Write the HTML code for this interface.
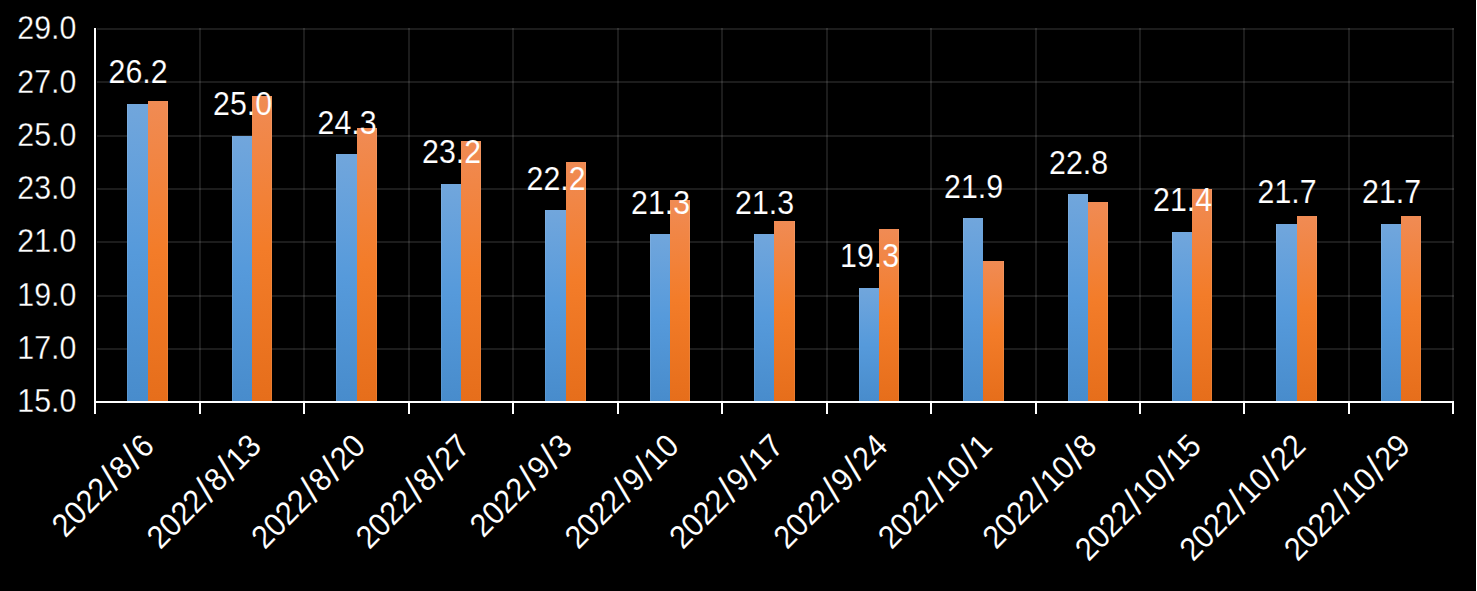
<!DOCTYPE html>
<html lang="zh"><head><meta charset="utf-8"><title>chart</title>
<style>
html,body{margin:0;padding:0;background:#000;}
body{width:1477px;height:591px;overflow:hidden;position:relative;}
svg{display:block;position:absolute;left:0;top:0;}
text{font-family:"Liberation Sans","Noto Sans CJK SC",sans-serif;fill:#fff;}
.g rect{fill:rgba(255,255,255,0.11);}
.ax rect{fill:#fff;}
.hl rect{fill:rgba(255,255,255,0.09);}
</style></head><body>
<svg width="1477" height="591" viewBox="0 0 1477 591">
<defs>
<linearGradient id="gb" x1="0" y1="0" x2="0" y2="1"><stop offset="0" stop-color="#71a6dc"/><stop offset="0.5" stop-color="#569adb"/><stop offset="1" stop-color="#488ccc"/></linearGradient>
<linearGradient id="go" x1="0" y1="0" x2="0" y2="1"><stop offset="0" stop-color="#f08b54"/><stop offset="0.5" stop-color="#f37c29"/><stop offset="1" stop-color="#e66e1b"/></linearGradient>
<pattern id="bg" patternUnits="userSpaceOnUse" x="0" y="0" width="1477" height="591">
<rect x="0" y="0" width="1477" height="591" fill="#000"/>
<g class="g" shape-rendering="crispEdges">
<rect x="97" y="28" width="1357" height="2"/>
<rect x="97" y="81" width="1357" height="2"/>
<rect x="97" y="135" width="1357" height="2"/>
<rect x="97" y="188" width="1357" height="2"/>
<rect x="97" y="241" width="1357" height="2"/>
<rect x="97" y="295" width="1357" height="2"/>
<rect x="97" y="348" width="1357" height="2"/>
<rect x="199" y="28" width="2" height="373"/>
<rect x="303" y="28" width="2" height="373"/>
<rect x="408" y="28" width="2" height="373"/>
<rect x="512" y="28" width="2" height="373"/>
<rect x="617" y="28" width="2" height="373"/>
<rect x="721" y="28" width="2" height="373"/>
<rect x="826" y="28" width="2" height="373"/>
<rect x="930" y="28" width="2" height="373"/>
<rect x="1035" y="28" width="2" height="373"/>
<rect x="1139" y="28" width="2" height="373"/>
<rect x="1243" y="28" width="2" height="373"/>
<rect x="1348" y="28" width="2" height="373"/>
<rect x="1452" y="28" width="2" height="373"/>
</g>
<g shape-rendering="crispEdges">
<rect x="127" y="104" width="21" height="297" fill="url(#gb)"/>
<rect x="148" y="101" width="20" height="300" fill="url(#go)"/>
<rect x="232" y="136" width="20" height="265" fill="url(#gb)"/>
<rect x="252" y="96" width="20" height="305" fill="url(#go)"/>
<rect x="336" y="154" width="21" height="247" fill="url(#gb)"/>
<rect x="357" y="128" width="20" height="273" fill="url(#go)"/>
<rect x="441" y="184" width="20" height="217" fill="url(#gb)"/>
<rect x="461" y="141" width="20" height="260" fill="url(#go)"/>
<rect x="545" y="210" width="21" height="191" fill="url(#gb)"/>
<rect x="566" y="162" width="20" height="239" fill="url(#go)"/>
<rect x="650" y="234" width="20" height="167" fill="url(#gb)"/>
<rect x="670" y="200" width="20" height="201" fill="url(#go)"/>
<rect x="754" y="234" width="20" height="167" fill="url(#gb)"/>
<rect x="774" y="221" width="21" height="180" fill="url(#go)"/>
<rect x="859" y="288" width="20" height="113" fill="url(#gb)"/>
<rect x="879" y="229" width="20" height="172" fill="url(#go)"/>
<rect x="963" y="218" width="20" height="183" fill="url(#gb)"/>
<rect x="983" y="261" width="21" height="140" fill="url(#go)"/>
<rect x="1068" y="194" width="20" height="207" fill="url(#gb)"/>
<rect x="1088" y="202" width="20" height="199" fill="url(#go)"/>
<rect x="1172" y="232" width="20" height="169" fill="url(#gb)"/>
<rect x="1192" y="189" width="20" height="212" fill="url(#go)"/>
<rect x="1276" y="224" width="21" height="177" fill="url(#gb)"/>
<rect x="1297" y="216" width="20" height="185" fill="url(#go)"/>
<rect x="1381" y="224" width="20" height="177" fill="url(#gb)"/>
<rect x="1401" y="216" width="20" height="185" fill="url(#go)"/>
</g>
<g class="hl" shape-rendering="crispEdges">
<rect x="127" y="104" width="1" height="297"/>
<rect x="167" y="101" width="1" height="300"/>
<rect x="232" y="136" width="1" height="265"/>
<rect x="271" y="96" width="1" height="305"/>
<rect x="336" y="154" width="1" height="247"/>
<rect x="376" y="128" width="1" height="273"/>
<rect x="441" y="184" width="1" height="217"/>
<rect x="480" y="141" width="1" height="260"/>
<rect x="545" y="210" width="1" height="191"/>
<rect x="585" y="162" width="1" height="239"/>
<rect x="650" y="234" width="1" height="167"/>
<rect x="689" y="200" width="1" height="201"/>
<rect x="754" y="234" width="1" height="167"/>
<rect x="794" y="221" width="1" height="180"/>
<rect x="859" y="288" width="1" height="113"/>
<rect x="898" y="229" width="1" height="172"/>
<rect x="963" y="218" width="1" height="183"/>
<rect x="1003" y="261" width="1" height="140"/>
<rect x="1068" y="194" width="1" height="207"/>
<rect x="1107" y="202" width="1" height="199"/>
<rect x="1172" y="232" width="1" height="169"/>
<rect x="1211" y="189" width="1" height="212"/>
<rect x="1276" y="224" width="1" height="177"/>
<rect x="1316" y="216" width="1" height="185"/>
<rect x="1381" y="224" width="1" height="177"/>
<rect x="1420" y="216" width="1" height="185"/>
</g>
</pattern>
</defs>
<rect x="0" y="0" width="1477" height="591" fill="#000"/>
<g class="g" shape-rendering="crispEdges">
<rect x="97" y="28" width="1357" height="2"/>
<rect x="97" y="81" width="1357" height="2"/>
<rect x="97" y="135" width="1357" height="2"/>
<rect x="97" y="188" width="1357" height="2"/>
<rect x="97" y="241" width="1357" height="2"/>
<rect x="97" y="295" width="1357" height="2"/>
<rect x="97" y="348" width="1357" height="2"/>
<rect x="199" y="28" width="2" height="373"/>
<rect x="303" y="28" width="2" height="373"/>
<rect x="408" y="28" width="2" height="373"/>
<rect x="512" y="28" width="2" height="373"/>
<rect x="617" y="28" width="2" height="373"/>
<rect x="721" y="28" width="2" height="373"/>
<rect x="826" y="28" width="2" height="373"/>
<rect x="930" y="28" width="2" height="373"/>
<rect x="1035" y="28" width="2" height="373"/>
<rect x="1139" y="28" width="2" height="373"/>
<rect x="1243" y="28" width="2" height="373"/>
<rect x="1348" y="28" width="2" height="373"/>
<rect x="1452" y="28" width="2" height="373"/>
</g>
<g shape-rendering="crispEdges">
<rect x="127" y="104" width="21" height="297" fill="url(#gb)"/>
<rect x="148" y="101" width="20" height="300" fill="url(#go)"/>
<rect x="232" y="136" width="20" height="265" fill="url(#gb)"/>
<rect x="252" y="96" width="20" height="305" fill="url(#go)"/>
<rect x="336" y="154" width="21" height="247" fill="url(#gb)"/>
<rect x="357" y="128" width="20" height="273" fill="url(#go)"/>
<rect x="441" y="184" width="20" height="217" fill="url(#gb)"/>
<rect x="461" y="141" width="20" height="260" fill="url(#go)"/>
<rect x="545" y="210" width="21" height="191" fill="url(#gb)"/>
<rect x="566" y="162" width="20" height="239" fill="url(#go)"/>
<rect x="650" y="234" width="20" height="167" fill="url(#gb)"/>
<rect x="670" y="200" width="20" height="201" fill="url(#go)"/>
<rect x="754" y="234" width="20" height="167" fill="url(#gb)"/>
<rect x="774" y="221" width="21" height="180" fill="url(#go)"/>
<rect x="859" y="288" width="20" height="113" fill="url(#gb)"/>
<rect x="879" y="229" width="20" height="172" fill="url(#go)"/>
<rect x="963" y="218" width="20" height="183" fill="url(#gb)"/>
<rect x="983" y="261" width="21" height="140" fill="url(#go)"/>
<rect x="1068" y="194" width="20" height="207" fill="url(#gb)"/>
<rect x="1088" y="202" width="20" height="199" fill="url(#go)"/>
<rect x="1172" y="232" width="20" height="169" fill="url(#gb)"/>
<rect x="1192" y="189" width="20" height="212" fill="url(#go)"/>
<rect x="1276" y="224" width="21" height="177" fill="url(#gb)"/>
<rect x="1297" y="216" width="20" height="185" fill="url(#go)"/>
<rect x="1381" y="224" width="20" height="177" fill="url(#gb)"/>
<rect x="1401" y="216" width="20" height="185" fill="url(#go)"/>
</g>
<g class="hl" shape-rendering="crispEdges">
<rect x="127" y="104" width="1" height="297"/>
<rect x="167" y="101" width="1" height="300"/>
<rect x="232" y="136" width="1" height="265"/>
<rect x="271" y="96" width="1" height="305"/>
<rect x="336" y="154" width="1" height="247"/>
<rect x="376" y="128" width="1" height="273"/>
<rect x="441" y="184" width="1" height="217"/>
<rect x="480" y="141" width="1" height="260"/>
<rect x="545" y="210" width="1" height="191"/>
<rect x="585" y="162" width="1" height="239"/>
<rect x="650" y="234" width="1" height="167"/>
<rect x="689" y="200" width="1" height="201"/>
<rect x="754" y="234" width="1" height="167"/>
<rect x="794" y="221" width="1" height="180"/>
<rect x="859" y="288" width="1" height="113"/>
<rect x="898" y="229" width="1" height="172"/>
<rect x="963" y="218" width="1" height="183"/>
<rect x="1003" y="261" width="1" height="140"/>
<rect x="1068" y="194" width="1" height="207"/>
<rect x="1107" y="202" width="1" height="199"/>
<rect x="1172" y="232" width="1" height="169"/>
<rect x="1211" y="189" width="1" height="212"/>
<rect x="1276" y="224" width="1" height="177"/>
<rect x="1316" y="216" width="1" height="185"/>
<rect x="1381" y="224" width="1" height="177"/>
<rect x="1420" y="216" width="1" height="185"/>
</g>
<g class="ax" shape-rendering="crispEdges">
<rect x="94" y="28" width="2" height="375"/>
<rect x="94" y="401" width="1360" height="2"/>
<rect x="94" y="403" width="2" height="11"/>
<rect x="199" y="403" width="2" height="11"/>
<rect x="303" y="403" width="2" height="11"/>
<rect x="408" y="403" width="2" height="11"/>
<rect x="512" y="403" width="2" height="11"/>
<rect x="617" y="403" width="2" height="11"/>
<rect x="721" y="403" width="2" height="11"/>
<rect x="826" y="403" width="2" height="11"/>
<rect x="930" y="403" width="2" height="11"/>
<rect x="1035" y="403" width="2" height="11"/>
<rect x="1139" y="403" width="2" height="11"/>
<rect x="1243" y="403" width="2" height="11"/>
<rect x="1348" y="403" width="2" height="11"/>
<rect x="1452" y="403" width="2" height="11"/>
</g>
<g font-size="32.3" text-anchor="end" stroke="#000" stroke-width="0.3">
<text x="76.3" y="39.2" textLength="58.97" lengthAdjust="spacingAndGlyphs">29.0</text>
<text x="76.3" y="92.5" textLength="58.97" lengthAdjust="spacingAndGlyphs">27.0</text>
<text x="76.3" y="145.8" textLength="58.97" lengthAdjust="spacingAndGlyphs">25.0</text>
<text x="76.3" y="199.1" textLength="58.97" lengthAdjust="spacingAndGlyphs">23.0</text>
<text x="76.3" y="252.3" textLength="58.97" lengthAdjust="spacingAndGlyphs">21.0</text>
<text x="76.3" y="305.6" textLength="58.97" lengthAdjust="spacingAndGlyphs">19.0</text>
<text x="76.3" y="358.9" textLength="58.97" lengthAdjust="spacingAndGlyphs">17.0</text>
<text x="76.3" y="412.2" textLength="58.97" lengthAdjust="spacingAndGlyphs">15.0</text>
</g>
<g font-size="32.3" text-anchor="middle" stroke="url(#bg)" stroke-width="0.12">
<text x="138.1" y="83.3" textLength="58.97" lengthAdjust="spacingAndGlyphs">26.2</text>
<text x="242.6" y="115.3" textLength="58.97" lengthAdjust="spacingAndGlyphs">25.0</text>
<text x="347.1" y="133.9" textLength="58.97" lengthAdjust="spacingAndGlyphs">24.3</text>
<text x="451.6" y="163.2" textLength="58.97" lengthAdjust="spacingAndGlyphs">23.2</text>
<text x="556.1" y="189.9" textLength="58.97" lengthAdjust="spacingAndGlyphs">22.2</text>
<text x="660.6" y="213.8" textLength="58.97" lengthAdjust="spacingAndGlyphs">21.3</text>
<text x="764.6" y="213.8" textLength="58.97" lengthAdjust="spacingAndGlyphs">21.3</text>
<text x="869.6" y="267.1" textLength="58.97" lengthAdjust="spacingAndGlyphs">19.3</text>
<text x="973.6" y="197.9" textLength="58.97" lengthAdjust="spacingAndGlyphs">21.9</text>
<text x="1078.6" y="173.9" textLength="58.97" lengthAdjust="spacingAndGlyphs">22.8</text>
<text x="1182.6" y="211.2" textLength="58.97" lengthAdjust="spacingAndGlyphs">21.4</text>
<text x="1287.1" y="203.2" textLength="58.97" lengthAdjust="spacingAndGlyphs">21.7</text>
<text x="1391.6" y="203.2" textLength="58.97" lengthAdjust="spacingAndGlyphs">21.7</text>
</g>
<g font-size="32.3" text-anchor="end" stroke="#000" stroke-width="0.1">
<text transform="translate(155.9 447.9) rotate(-45) scale(0.938 1)">2022<tspan font-size="38.5" dx="1.85" dy="2.2">/</tspan><tspan dx="1.85" dy="-2.2">8</tspan><tspan font-size="38.5" dx="1.85" dy="2.2">/</tspan><tspan dx="1.85" dy="-2.2">6</tspan></text>
<text transform="translate(262.8 447.9) rotate(-45) scale(0.938 1)">2022<tspan font-size="38.5" dx="1.85" dy="2.2">/</tspan><tspan dx="1.85" dy="-2.2">8</tspan><tspan font-size="38.5" dx="1.85" dy="2.2">/</tspan><tspan dx="1.85" dy="-2.2">13</tspan></text>
<text transform="translate(367.2 447.9) rotate(-45) scale(0.938 1)">2022<tspan font-size="38.5" dx="1.85" dy="2.2">/</tspan><tspan dx="1.85" dy="-2.2">8</tspan><tspan font-size="38.5" dx="1.85" dy="2.2">/</tspan><tspan dx="1.85" dy="-2.2">20</tspan></text>
<text transform="translate(471.7 447.9) rotate(-45) scale(0.938 1)">2022<tspan font-size="38.5" dx="1.85" dy="2.2">/</tspan><tspan dx="1.85" dy="-2.2">8</tspan><tspan font-size="38.5" dx="1.85" dy="2.2">/</tspan><tspan dx="1.85" dy="-2.2">27</tspan></text>
<text transform="translate(573.8 447.9) rotate(-45) scale(0.938 1)">2022<tspan font-size="38.5" dx="1.85" dy="2.2">/</tspan><tspan dx="1.85" dy="-2.2">9</tspan><tspan font-size="38.5" dx="1.85" dy="2.2">/</tspan><tspan dx="1.85" dy="-2.2">3</tspan></text>
<text transform="translate(680.6 447.9) rotate(-45) scale(0.938 1)">2022<tspan font-size="38.5" dx="1.85" dy="2.2">/</tspan><tspan dx="1.85" dy="-2.2">9</tspan><tspan font-size="38.5" dx="1.85" dy="2.2">/</tspan><tspan dx="1.85" dy="-2.2">10</tspan></text>
<text transform="translate(785.1 447.9) rotate(-45) scale(0.938 1)">2022<tspan font-size="38.5" dx="1.85" dy="2.2">/</tspan><tspan dx="1.85" dy="-2.2">9</tspan><tspan font-size="38.5" dx="1.85" dy="2.2">/</tspan><tspan dx="1.85" dy="-2.2">17</tspan></text>
<text transform="translate(889.5 447.9) rotate(-45) scale(0.938 1)">2022<tspan font-size="38.5" dx="1.85" dy="2.2">/</tspan><tspan dx="1.85" dy="-2.2">9</tspan><tspan font-size="38.5" dx="1.85" dy="2.2">/</tspan><tspan dx="1.85" dy="-2.2">24</tspan></text>
<text transform="translate(993.9 447.9) rotate(-45) scale(0.938 1)">2022<tspan font-size="38.5" dx="1.85" dy="2.2">/</tspan><tspan dx="1.85" dy="-2.2">10</tspan><tspan font-size="38.5" dx="1.85" dy="2.2">/</tspan><tspan dx="1.85" dy="-2.2">1</tspan></text>
<text transform="translate(1098.4 447.9) rotate(-45) scale(0.938 1)">2022<tspan font-size="38.5" dx="1.85" dy="2.2">/</tspan><tspan dx="1.85" dy="-2.2">10</tspan><tspan font-size="38.5" dx="1.85" dy="2.2">/</tspan><tspan dx="1.85" dy="-2.2">8</tspan></text>
<text transform="translate(1202.9 447.9) rotate(-45) scale(0.938 1)">2022<tspan font-size="38.5" dx="1.85" dy="2.2">/</tspan><tspan dx="1.85" dy="-2.2">10</tspan><tspan font-size="38.5" dx="1.85" dy="2.2">/</tspan><tspan dx="1.85" dy="-2.2">15</tspan></text>
<text transform="translate(1307.3 447.9) rotate(-45) scale(0.938 1)">2022<tspan font-size="38.5" dx="1.85" dy="2.2">/</tspan><tspan dx="1.85" dy="-2.2">10</tspan><tspan font-size="38.5" dx="1.85" dy="2.2">/</tspan><tspan dx="1.85" dy="-2.2">22</tspan></text>
<text transform="translate(1411.8 447.9) rotate(-45) scale(0.938 1)">2022<tspan font-size="38.5" dx="1.85" dy="2.2">/</tspan><tspan dx="1.85" dy="-2.2">10</tspan><tspan font-size="38.5" dx="1.85" dy="2.2">/</tspan><tspan dx="1.85" dy="-2.2">29</tspan></text>
</g>
<rect x="1476" y="0" width="1" height="591" fill="#fff" shape-rendering="crispEdges"/>
</svg>
</body></html>
